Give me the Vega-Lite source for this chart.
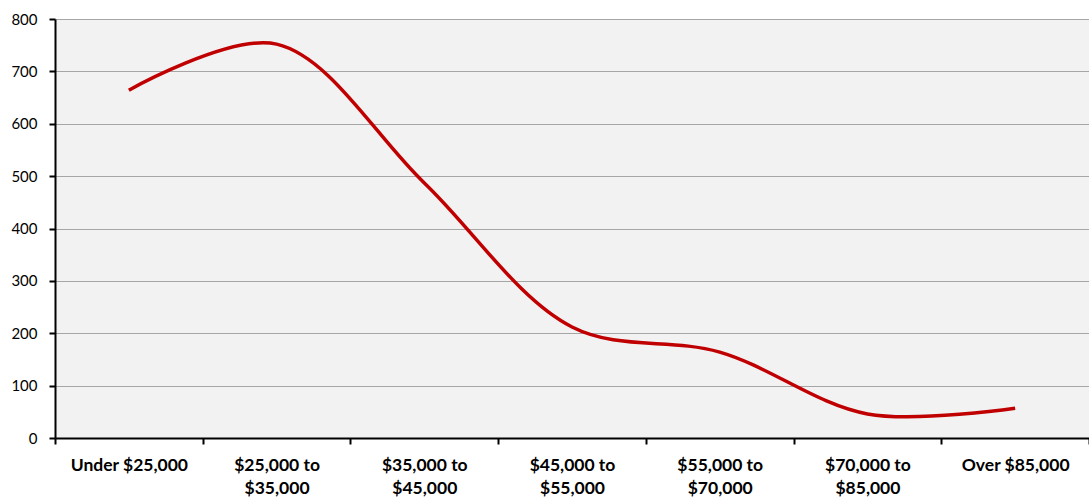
{
  "$schema": "https://vega.github.io/schema/vega-lite/v6.json",
  "width": 1034,
  "height": 419,
  "autosize": "none",
  "padding": {"left": 55, "top": 19, "right": 0, "bottom": 60},
  "background": "white",
  "config": {
    "view": {"fill": "#f2f2f2", "stroke": null},
    "font": "Lato"
  },
  "data": {
    "values": [
      {"income": "Under $25,000", "count": 664},
      {"income": "$25,000 to $35,000", "count": 752},
      {"income": "$35,000 to $45,000", "count": 487},
      {"income": "$45,000 to $55,000", "count": 212},
      {"income": "$55,000 to $70,000", "count": 164},
      {"income": "$70,000 to $85,000", "count": 46},
      {"income": "Over $85,000", "count": 57}
    ]
  },
  "mark": {"type": "line", "interpolate": "catmull-rom", "color": "#c00000", "strokeWidth": 3.5},
  "encoding": {
    "x": {
      "field": "income",
      "type": "ordinal",
      "sort": null,
      "scale": {"type": "band", "paddingInner": 0, "paddingOuter": 0},
      "axis": {
        "title": null,
        "labelAngle": 0,
        "tickBand": "extent",
        "domainColor": "black",
        "domainWidth": 2,
        "tickColor": "black",
        "tickWidth": 2,
        "tickSize": 6,
        "labelFont": "Lato",
        "labelFontWeight": "bold",
        "labelFontSize": 17.5,
        "labelColor": "black",
        "labelPadding": 12,
        "labelLineHeight": 23,
        "grid": false,
        "labelExpr": "indexof(datum.label,' to ')>0 ? [slice(datum.label,0,indexof(datum.label,' to ')+3), slice(datum.label,indexof(datum.label,' to ')+4)] : datum.label"
      }
    },
    "y": {
      "field": "count",
      "type": "quantitative",
      "scale": {"domain": [0, 800]},
      "axis": {
        "title": null,
        "values": [0, 100, 200, 300, 400, 500, 600, 700, 800],
        "domainColor": "black",
        "domainWidth": 2,
        "tickColor": "black",
        "tickWidth": 2,
        "tickSize": 6,
        "labelFont": "Lato",
        "labelFontSize": 15,
        "labelColor": "black",
        "labelPadding": 12,
        "gridColor": "#a6a6a6",
        "gridWidth": 1,
        "gridOpacity": 1
      }
    }
  }
}
